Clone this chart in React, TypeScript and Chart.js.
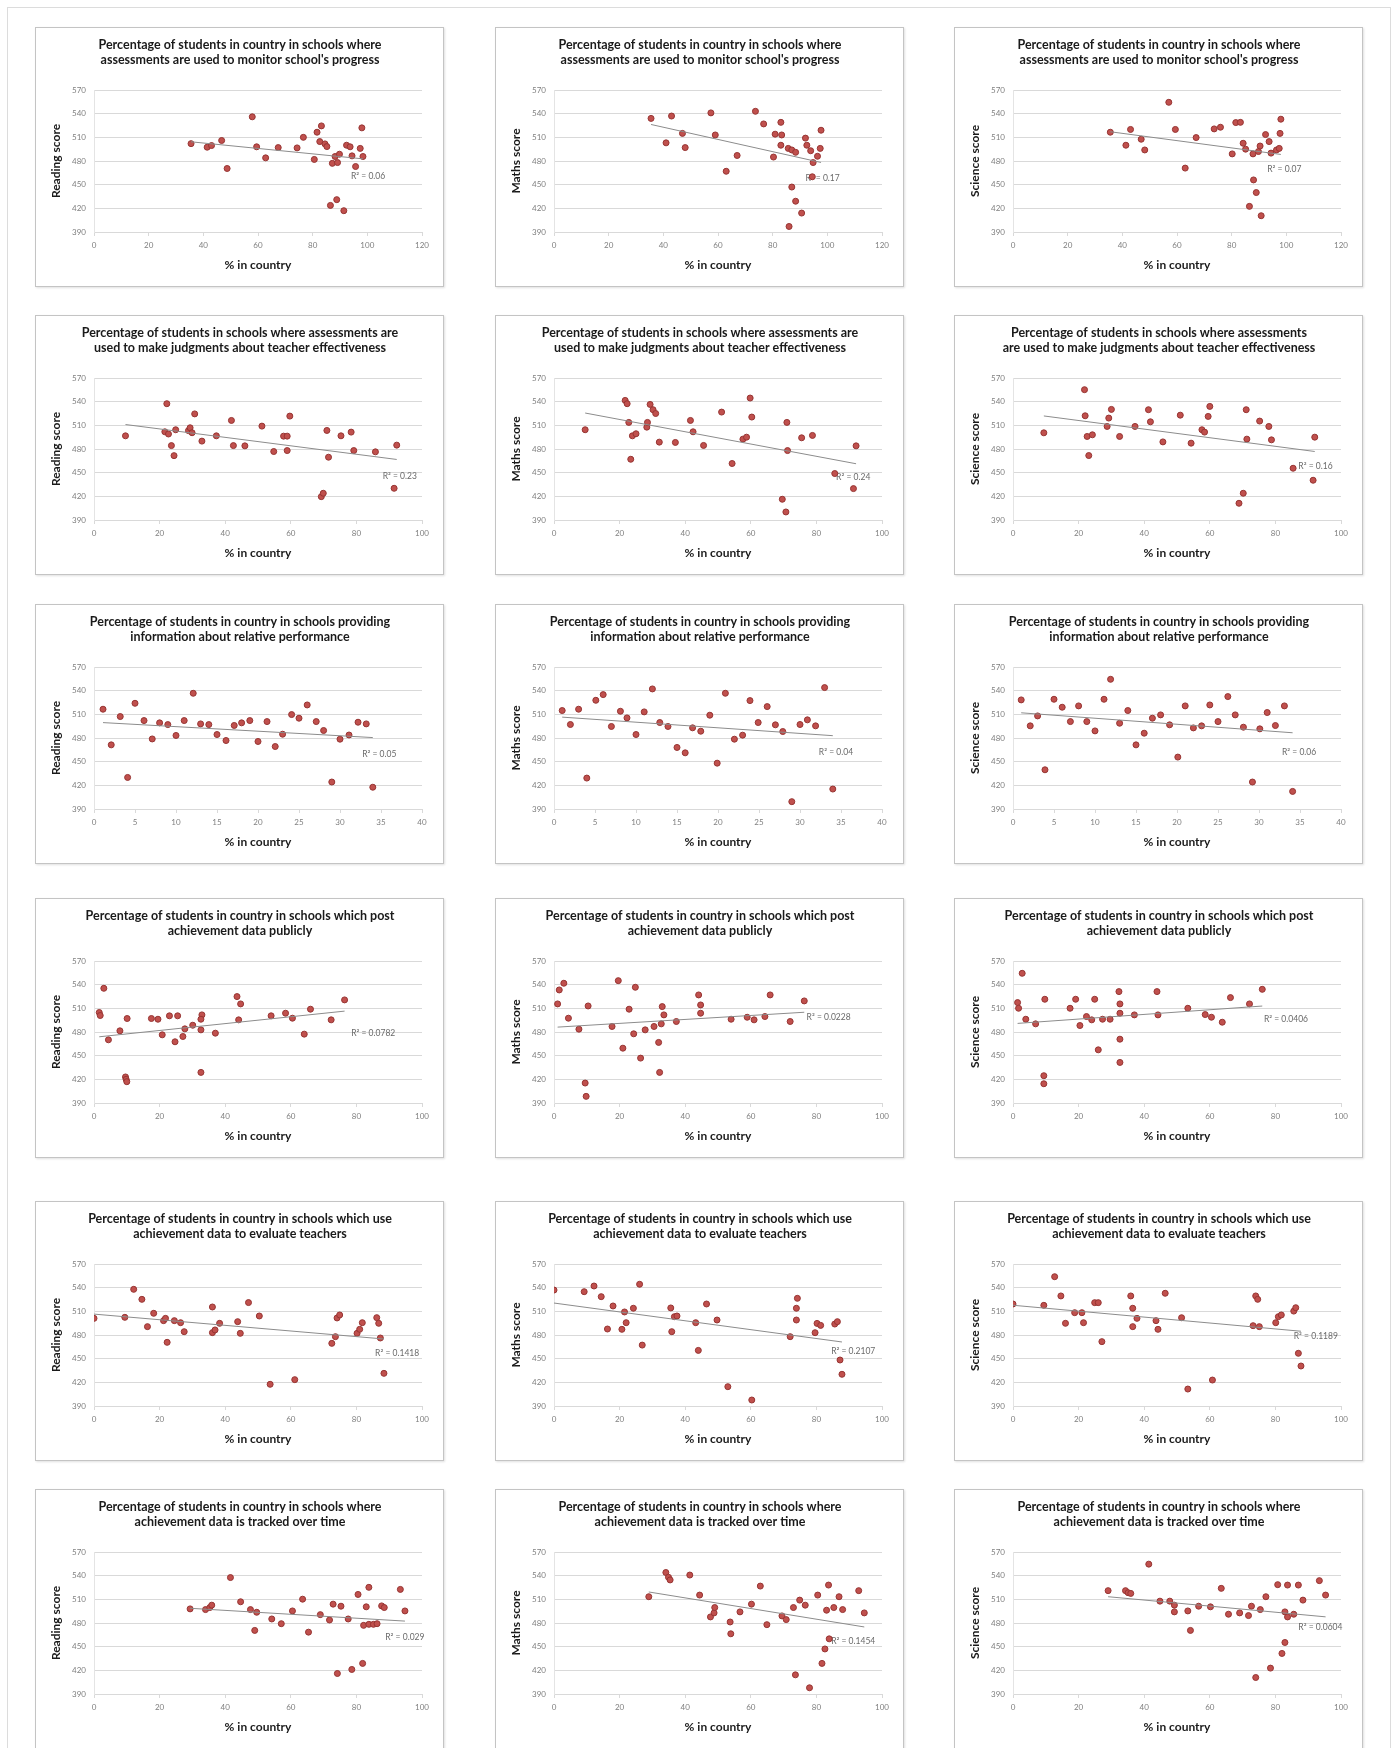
import React, { useEffect, useRef } from "react";
import { Chart, registerables } from "chart.js";
Chart.register(...registerables);

type Pt = [number, number];

// ---------- text ----------
const xAxisTitle = "% in country";
const subjectTitles = ["Reading score", "Maths score", "Science score"];

const titleMonitor = ["Percentage of students in country in schools where", "assessments are used to monitor school's progress"];
const titleTeacherA = ["Percentage of students in schools where assessments are", "used to make judgments about teacher effectiveness"];
const titleTeacherB = ["Percentage of students in schools where assessments", "are used to make judgments about teacher effectiveness"];
const titleRelative = ["Percentage of students in country in schools providing", "information about relative performance"];
const titlePublic = ["Percentage of students in country in schools which post", "achievement data publicly"];
const titleEvaluate = ["Percentage of students in country in schools which use", "achievement data to evaluate teachers"];
const titleTracked = ["Percentage of students in country in schools where", "achievement data is tracked over time"];

// ---------- axes ----------
const yMin = 390;
const yMax = 570;
const yStep = 30;
const rowXMax = [120, 100, 40, 100, 100, 100];
const rowXStep = [20, 20, 5, 20, 20, 20];

// ---------- data (x = % in country, y = score) ----------
const monitorReading: Pt[] = [[35.5,502],[41.4,497.5],[43,499.6],[46.7,506],[48.7,470.5],[57.9,536],[59.5,498],[62.8,484],[67.4,497],[74.3,496.6],[76.6,510],[80.6,482],[81.6,516.5],[83.2,524.5],[82.6,504.6],[84.5,501.7],[85.2,498.3],[87.2,477],[89.1,478],[88.2,485.7],[89.8,488.6],[92.4,500],[93.7,498],[94.4,486.5],[95.7,473],[98,522],[97.4,496],[98.4,485.7],[86.5,423.7],[88.8,431],[91.4,417]];
const monitorMaths: Pt[] = [[35.5,534],[41,503],[43,537],[47,515],[48,497],[57.4,541],[59,513],[63,467],[67,487],[73.7,543],[76.7,527],[80.3,485],[80.9,514],[83,529],[83.3,513],[83,500],[85.7,496],[87,494],[88.4,491],[92,509],[92.5,500],[93.9,493],[94.8,478],[96.4,486],[97.4,496],[97.7,519],[94.5,460],[87,447],[88.4,429],[90.6,414],[86,397]];
const monitorScience: Pt[] = [[35.6,516.5],[41.3,500],[43,520],[46.9,507.6],[48.2,494],[57,554.4],[59.4,520],[63,471],[67,509.7],[73.6,520.7],[75.9,522.8],[80.2,489],[81.5,528.7],[83.2,529],[84.2,502.5],[85.1,495],[87.8,489],[89.8,492],[90.4,499],[92.4,513.5],[93.7,504.6],[94.4,490],[96.4,494],[97.4,496],[97.7,515],[98,533],[88,456],[89,440],[86.5,422.5],[90.8,410.6]];

const teacherReading: Pt[] = [[9.6,496.7],[22.2,537.4],[21.6,501.8],[22.7,499],[23.6,484.3],[24.4,471.6],[24.9,504.4],[28.8,503.3],[29.3,506.9],[29.9,500.6],[30.7,524.5],[32.9,490],[37.3,496.7],[41.9,516.2],[42.5,484.3],[46,484],[51.2,509],[54.8,476.8],[57.8,496.3],[58.9,496.3],[58.9,478],[59.7,521.7],[71,503.5],[71.5,469.6],[75.3,496.7],[78.4,501.4],[79.2,478],[85.8,476.4],[92.3,484.9],[91.5,430.2],[69.3,419.6],[69.9,423.9]];
const teacherMaths: Pt[] = [[9.5,504.4],[21.7,541.6],[22.3,537.4],[22.8,513.7],[23.4,467],[23.9,496.7],[25,499.3],[28.3,507.7],[28.5,513.7],[29.3,536.5],[30.2,529.8],[31,525],[32.1,488.7],[37,488.3],[41.6,516.2],[42.4,501.8],[45.6,484.5],[51.1,526.8],[54.3,461.6],[57.6,492.5],[58.7,495],[59.8,544.6],[60.3,520.5],[69.6,416.3],[70.7,400.2],[71,513.7],[71.2,478],[75.5,494.2],[78.8,497.2],[85.6,448.9],[91.3,429.8],[92.1,484]];
const teacherScience: Pt[] = [[9.4,500.5],[21.8,555.2],[22,522.1],[22.6,495.9],[23.1,471.7],[24.2,498],[28.7,508.6],[29.2,519.2],[30,530.2],[32.5,495.9],[37.2,508.6],[41.3,529.8],[41.9,514.5],[45.7,489],[51,522.9],[54.3,487.4],[57.6,504.4],[58.4,501.4],[59.5,521.3],[60,534],[68.9,411.2],[70.2,423.9],[71.1,529.8],[71.3,492.5],[75.2,515.4],[78,508.6],[78.8,491.6],[85.4,455.6],[91.5,440.4],[92,495]];

const relativeReading: Pt[] = [[1.1,516.5],[2.1,471.3],[3.2,507.2],[4.1,430],[5,524],[6.1,502.1],[7.1,478.8],[8,499.2],[9,497],[10,483.2],[11,502.1],[12.1,536.7],[13,497.9],[14,497],[15,484.4],[16.1,476.8],[17.1,495.9],[18,499.2],[19,502.1],[20,475.6],[21.1,500.8],[22.1,469.2],[23,484.8],[24.1,509.7],[25,505.1],[26,521.9],[27.1,500.8],[28,489.5],[29,424.2],[30,478.5],[31.1,483.8],[32.2,500],[33.2,497.9],[34,417.6]];
const relativeMaths: Pt[] = [[1,514.8],[2,497.1],[3,516.5],[4,429.2],[5.1,527.8],[6,535],[7,494.6],[8.1,513.9],[8.9,505.5],[10,484.4],[11,513.1],[12,542.2],[12.9,499.6],[13.9,494.6],[15,468],[16,461.2],[16.9,492.9],[17.9,488.6],[19,508.9],[19.9,448.1],[20.9,536.7],[22,478.5],[23,483.6],[23.9,527.4],[24.9,499.6],[26,519.8],[27,496.7],[27.9,488.2],[29,399.3],[30,497.1],[30.9,503],[31.9,495.4],[33,543.9],[34,415.3]];
const relativeScience: Pt[] = [[1,528.3],[2.1,495.4],[3,508],[3.9,439.7],[5,529.1],[6,519],[7,500.8],[8,520.7],[9,500.8],[10,489],[11.1,529.1],[11.9,554.4],[13,498.7],[14,514.8],[15,471.3],[16,486.1],[17,505.1],[18,509.3],[19.1,496.7],[20.1,455.8],[21,520.7],[22,492.8],[23,495.4],[24,521.9],[25,500.8],[26.2,532.5],[27.1,509.3],[28.1,493.7],[29.2,424.2],[30.1,491.6],[31,512.3],[32,495.8],[33.1,520.7],[34.1,412.3]];

const publicReading: Pt[] = [[1.6,504.7],[1.9,500.9],[3,535.4],[4.4,470.1],[7.9,481.5],[9.6,423],[9.8,420],[10,417],[10.1,497.1],[17.5,497.1],[19.5,496.2],[20.8,476.4],[23,500.5],[24.7,467.6],[25.5,500.5],[27.1,474.3],[27.7,484],[30.1,488.6],[32.9,501.7],[32.6,496.2],[32.6,482.7],[32.6,428.8],[37,478.5],[43.6,524.9],[44.7,515.6],[44.1,495.4],[54,500.5],[58.4,503.8],[60.5,497.5],[64.1,477.3],[66,508.9],[72.3,495.4],[76.4,520.7]];
const publicMaths: Pt[] = [[1.1,515.6],[1.6,533.3],[3,541.8],[4.4,497.5],[7.6,483.6],[9.5,415.3],[9.8,398.4],[10.4,513],[17.7,487],[19.6,545.1],[21,459.5],[22.9,508.9],[24.3,477.7],[24.8,536.7],[26.4,446.9],[27.8,482.7],[30.5,487],[31.9,466.8],[32.2,428.8],[32.7,490.3],[33,512.2],[33.5,501.7],[37.3,493.3],[44.1,527],[44.7,514.3],[44.7,503.8],[54,496.2],[58.9,498.7],[61,495.4],[64.3,499.6],[65.9,527],[72,493.3],[76.3,519.4]];
const publicScience: Pt[] = [[1.4,517.3],[1.7,510.1],[2.8,554.4],[3.9,496.2],[6.9,490.3],[9.4,424.6],[9.4,414.4],[9.7,521.5],[17.4,510.1],[19.1,521.5],[20.4,488.2],[22.4,499.6],[24,495.4],[24.9,521.5],[26,457.4],[27.3,496.2],[29.6,496.2],[32.3,531.2],[32.6,515.6],[32.6,503.8],[32.6,470.9],[32.6,441.4],[37,501.7],[43.9,531.2],[44.2,501.7],[53.3,510.1],[58.6,502.1],[60.5,498.7],[63.8,492.4],[66.3,523.6],[72.1,515.6],[76,534.1]];

const evaluateReading: Pt[] = [[0,501.1],[9.4,502.4],[12.1,537.9],[14.6,525.2],[16.3,490.6],[18.2,507.5],[21.2,498.2],[21.8,501.1],[22.3,470.7],[24.5,498.2],[26.4,495.6],[27.5,484.2],[36.1,515.5],[36.1,483],[36.9,486.4],[38.3,494.8],[43.8,496.9],[44.6,482.1],[47.1,521.1],[50.4,504.1],[53.7,417.5],[61.2,423.4],[72.5,469.4],[73.6,477.9],[74.1,501.6],[74.9,505.4],[80.2,482.1],[81,487.2],[81.8,495.6],[86.2,502],[86.8,494.8],[87.3,476.2],[88.4,431.4]];
const evaluateMaths: Pt[] = [[0,537],[9.2,534.9],[12.2,542.1],[14.4,528.6],[16.3,487.6],[18,516.8],[20.7,487.2],[21.5,509.2],[22,495.6],[24.2,513.9],[26.1,544.3],[26.9,467.2],[35.6,514.3],[35.9,484.2],[36.7,503.2],[37.5,504.1],[43.2,495.6],[44,460.5],[46.5,519.3],[49.7,499],[53,414.5],[60.3,397.6],[72,477.9],[73.9,513.9],[74.2,526.5],[73.9,499],[79.6,482.9],[80.2,494.7],[81.3,492.2],[85.6,493.9],[86.4,496.9],[87.2,448.3],[87.8,430.2]];
const evaluateScience: Pt[] = [[0,519.3],[9.4,517.6],[12.7,553.9],[14.6,529.5],[16,494.8],[18.8,508.3],[21,508.3],[21.5,495.6],[24.9,521],[26,521],[27.1,471.6],[35.9,529.5],[36.5,513.9],[36.5,490.6],[37.8,501.1],[43.6,498.2],[44.2,487.2],[46.4,532.9],[51.4,501.9],[53.3,411.5],[60.8,422.9],[73.2,491.8],[74,529.5],[74.6,525.2],[75.1,490.6],[80.1,495.6],[80.9,503.2],[81.8,505.4],[85.6,510.3],[86.2,514.6],[87,456.8],[87.8,440.7]];

const trackedReading: Pt[] = [[29.3,497.9],[34,497],[35.3,499.6],[35.9,502.6],[41.6,537.6],[44.7,506.9],[47.7,497],[49,470.6],[49.6,493.6],[54.2,485.1],[57.1,479.1],[60.5,495.3],[63.6,510.2],[65.4,468.4],[69,490.6],[71.8,483.8],[72.9,503.9],[74.2,416],[75.3,501.3],[77.5,485.1],[78.6,421.1],[80.5,516.2],[81.9,428.8],[82.2,477],[83,500.5],[83.8,525.2],[83.8,478.3],[85.2,478.3],[86.3,479.1],[87.7,501.7],[88.5,499.6],[93.4,522.6],[94.8,495.3]];
const trackedMaths: Pt[] = [[28.9,513.3],[34.1,544],[34.9,538],[35.4,534.6],[41.4,540.8],[44.4,515.4],[47.7,487.7],[48.8,492.8],[49,499.6],[53.7,481.3],[53.9,466.3],[56.7,494.1],[60.2,503.9],[62.9,526.8],[64.9,477.9],[69.5,489],[70.8,484.3],[73,499.6],[73.6,414.3],[74.9,509],[76.6,502.6],[77.9,397.9],[80.4,515.4],[81.7,428.8],[82.6,447.1],[83.1,496.2],[83.7,528.1],[83.9,459.9],[85.3,499.6],[86.9,513.3],[88,497],[92.9,521],[94.6,492.8]];
const trackedScience: Pt[] = [[29,521],[34.3,521],[35.1,518.4],[35.9,517.5],[41.4,554.6],[44.8,507.7],[47.8,507.7],[49.2,502.6],[49.2,494.1],[53.3,495.3],[54.1,470.6],[56.6,501.3],[60.2,500.5],[63.5,523.9],[65.7,491.1],[69.1,492.8],[71.8,489.4],[72.7,501.3],[74,410.9],[75.4,497],[77.1,513.3],[78.5,422.8],[80.7,528.6],[82,441.4],[82.9,455.3],[82.9,494.1],[83.7,487.7],[83.7,528.1],[85.6,491.1],[87,528.1],[88.4,509],[93.4,533.7],[95.3,515.4]];

// R² labels as printed on each chart
const r2Texts = [
  "R² = 0.06", "R² = 0.17", "R² = 0.07",
  "R² = 0.23", "R² = 0.24", "R² = 0.16",
  "R² = 0.05", "R² = 0.04", "R² = 0.06",
  "R² = 0.0782", "R² = 0.0228", "R² = 0.0406",
  "R² = 0.1418", "R² = 0.2107", "R² = 0.1189",
  "R² = 0.029", "R² = 0.1454", "R² = 0.0604",
];
// where each R² label sits (in data units: x of label start, y of label middle)
const r2Anchors: Pt[] = [
  [94, 461], [92, 458], [93, 469],
  [88, 446], [86, 444], [87, 458],
  [32.7, 459], [32.3, 462], [32.8, 462],
  [78.4, 479], [77, 499], [76.5, 496],
  [85.7, 457], [84.5, 459], [85.6, 478],
  [88.8, 462], [84.5, 457], [87, 475],
];

const rowTitles = [
  [titleMonitor, titleMonitor, titleMonitor],
  [titleTeacherA, titleTeacherA, titleTeacherB],
  [titleRelative, titleRelative, titleRelative],
  [titlePublic, titlePublic, titlePublic],
  [titleEvaluate, titleEvaluate, titleEvaluate],
  [titleTracked, titleTracked, titleTracked],
];
const rowData: Pt[][][] = [
  [monitorReading, monitorMaths, monitorScience],
  [teacherReading, teacherMaths, teacherScience],
  [relativeReading, relativeMaths, relativeScience],
  [publicReading, publicMaths, publicScience],
  [evaluateReading, evaluateMaths, evaluateScience],
  [trackedReading, trackedMaths, trackedScience],
];

// ---------- layout ----------
const colLeft = [35, 495, 954];
const rowTop = [27, 315, 604, 898, 1201, 1489];
const CW = 407;
const CH = 258;
const FONT = "Lato, 'Liberation Sans', Arial, sans-serif";

function fitLine(pts: Pt[]) {
  const n = pts.length;
  const mx = pts.reduce((s, p) => s + p[0], 0) / n;
  const my = pts.reduce((s, p) => s + p[1], 0) / n;
  let sxy = 0, sxx = 0;
  pts.forEach(([x, y]) => { sxy += (x - mx) * (y - my); sxx += (x - mx) * (x - mx); });
  const b = sxy / sxx;
  const a = my - b * mx;
  const xs = pts.map((p) => p[0]);
  const x0 = Math.min(...xs), x1 = Math.max(...xs);
  return [{ x: x0, y: a + b * x0 }, { x: x1, y: a + b * x1 }];
}

type PanelProps = {
  left: number; top: number; title: string[]; yTitle: string; points: Pt[];
  xMax: number; xStep: number; r2: string; r2At: Pt;
};

function Panel({ left, top, title, yTitle, points, xMax, xStep, r2, r2At }: PanelProps) {
  const ref = useRef<HTMLCanvasElement>(null);
  useEffect(() => {
    if (!ref.current) return;
    const titlePlugin = {
      id: "panelTitle",
      afterDraw(chart: any) {
        const ctx = chart.ctx;
        ctx.save();
        ctx.font = `bold 12.5px ${FONT}`;
        ctx.fillStyle = "#1a1a1a";
        ctx.textAlign = "center";
        ctx.textBaseline = "middle";
        ctx.fillText(title[0], 204, 17);
        ctx.fillText(title[1], 204, 32);
        ctx.restore();
      },
    };
    const r2Plugin = {
      id: "r2Label",
      beforeDatasetsDraw(chart: any) {
        const ctx = chart.ctx;
        const xs = chart.scales.x, ys = chart.scales.y;
        ctx.save();
        ctx.font = `8.5px ${FONT}`;
        ctx.fillStyle = "#6a6a6a";
        ctx.textAlign = "left";
        ctx.textBaseline = "middle";
        ctx.fillText(r2, xs.getPixelForValue(r2At[0]), ys.getPixelForValue(r2At[1]));
        ctx.restore();
      },
    };
    const tickFont = { family: FONT, size: 8 };
    const axisTitleFont = { family: FONT, size: 12, weight: "bold" as const };
    const chart = new Chart(ref.current, {
      type: "scatter",
      data: {
        datasets: [
          {
            type: "line",
            data: fitLine(points),
            borderColor: "#8c8c8c",
            borderWidth: 1,
            pointRadius: 0,
            fill: false,
          } as any,
          {
            data: points.map(([x, y]) => ({ x, y })),
            backgroundColor: "#c0504d",
            borderColor: "#963432",
            borderWidth: 1,
            pointRadius: 3,
          },
        ],
      },
      options: {
        animation: false,
        responsive: false,
        devicePixelRatio: 1,
        layout: { padding: { left: 0, right: 21, top: 62, bottom: 0 } },
        plugins: { legend: { display: false }, tooltip: { enabled: false }, title: { display: false } },
        scales: {
          x: {
            type: "linear",
            min: 0,
            max: xMax,
            ticks: { stepSize: xStep, font: tickFont, color: "#7f7f7f", padding: 5, maxRotation: 0, autoSkip: false },
            grid: { drawOnChartArea: false, drawTicks: true, tickLength: 4, color: "#d9d9d9" },
            border: { display: true, color: "#d9d9d9" },
            title: { display: true, text: xAxisTitle, font: axisTitleFont, color: "#1a1a1a", padding: { top: 0, bottom: 13.8 } },
            afterFit: (s: any) => { s.height = CH - 204; },
          },
          y: {
            type: "linear",
            min: yMin,
            max: yMax,
            ticks: { stepSize: yStep, font: tickFont, color: "#7f7f7f", padding: 8 },
            grid: { drawTicks: false, color: "#d9d9d9" },
            border: { display: true, color: "#e4e4e4" },
            title: { display: true, text: yTitle, font: axisTitleFont, color: "#1a1a1a", padding: { top: 12.5, bottom: 0 } },
            afterFit: (s: any) => { s.width = 58; },
          },
        },
      },
      plugins: [titlePlugin, r2Plugin],
    } as any);
    return () => chart.destroy();
  }, []);
  return (
    <div
      style={{
        position: "absolute",
        left,
        top,
        width: CW,
        height: CH,
        border: "1px solid #c4c4c4",
        boxShadow: "1px 1px 2px rgba(0,0,0,0.12)",
        background: "#fff",
      }}
    >
      <canvas ref={ref} width={CW} height={CH} style={{ display: "block", width: CW, height: CH }} />
    </div>
  );
}

export default function App() {
  const panels: React.ReactNode[] = [];
  rowData.forEach((row, r) => {
    row.forEach((pts, c) => {
      const i = r * 3 + c;
      panels.push(
        <Panel
          key={i}
          left={colLeft[c]}
          top={rowTop[r]}
          title={rowTitles[r][c]}
          yTitle={subjectTitles[c]}
          points={pts}
          xMax={rowXMax[r]}
          xStep={rowXStep[r]}
          r2={r2Texts[i]}
          r2At={r2Anchors[i]}
        />
      );
    });
  });
  return (
    <div style={{ position: "absolute", left: 0, top: 0, width: 1400, height: 1748, overflow: "hidden", background: "#fff" }}>
      <div style={{ position: "absolute", left: 7, top: 7, width: 1382, height: 1800, border: "1px solid #dcdcdc" }} />
      {panels}
    </div>
  );
}
